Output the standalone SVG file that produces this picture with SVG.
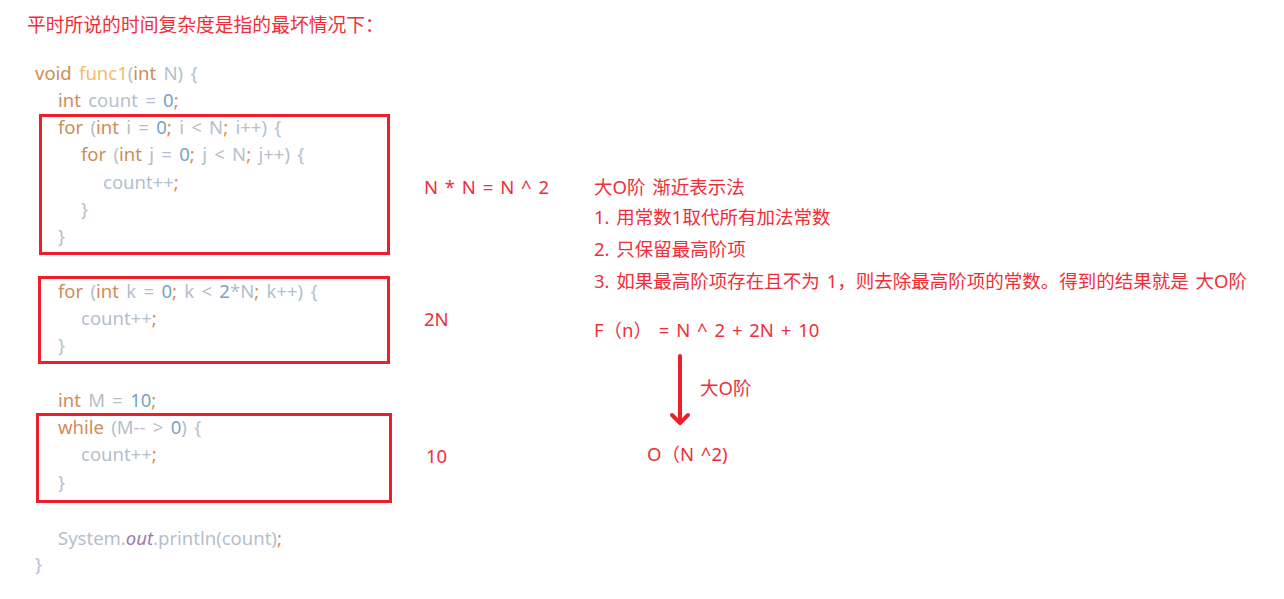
<svg xmlns="http://www.w3.org/2000/svg" width="1284" height="599" viewBox="0 0 1284 599">
<style>
text{font-family:"Noto Sans","Noto Sans CJK SC",sans-serif;}
.code{font-size:18.5px;fill:#b3bfcc;word-spacing:2.5px;}
.k{fill:#cf8c57;}
.f{fill:#f4bd6c;}
.n{fill:#77a2c8;}
.s{fill:#e08a48;}
.o{fill:#9b78b2;font-style:italic;}
.red{fill:#ee2f3a;font-size:18.5px;word-spacing:2px;}
.box{fill:none;stroke:#ee1f2b;stroke-width:3;}
.arr{fill:none;stroke:#ee1f2b;stroke-width:4;stroke-linecap:round;stroke-linejoin:round;}
</style>
<rect width="1284" height="599" fill="#ffffff"/>
<g id="title"><text class="red" x="27" y="32" style="font-size:18.8px">平时所说的时间复杂度是指的最坏情况下：</text></g>
<g id="code" class="code">
<text x="35" y="80"><tspan class="k">void </tspan><tspan class="f">func1</tspan>(<tspan class="k">int </tspan>N) {</text>
<text x="58" y="107"><tspan class="k">int </tspan>count = <tspan class="n">0</tspan><tspan class="s">;</tspan></text>
<text x="58" y="134"><tspan class="k">for </tspan>(<tspan class="k">int </tspan>i = <tspan class="n">0</tspan><tspan class="s">; </tspan>i &lt; N<tspan class="s">; </tspan>i++) {</text>
<text x="81" y="161"><tspan class="k">for </tspan>(<tspan class="k">int </tspan>j = <tspan class="n">0</tspan><tspan class="s">; </tspan>j &lt; N<tspan class="s">; </tspan>j++) {</text>
<text x="103" y="189">count++<tspan class="s">;</tspan></text>
<text x="81" y="216">}</text>
<text x="58" y="243">}</text>
<text x="58" y="298"><tspan class="k">for </tspan>(<tspan class="k">int </tspan>k = <tspan class="n">0</tspan><tspan class="s">; </tspan>k &lt; <tspan class="n">2</tspan>*N<tspan class="s">; </tspan>k++) {</text>
<text x="81" y="325">count++<tspan class="s">;</tspan></text>
<text x="58" y="352">}</text>
<text x="58" y="407"><tspan class="k">int </tspan>M = <tspan class="n">10</tspan><tspan class="s">;</tspan></text>
<text x="58" y="434"><tspan class="k">while </tspan>(M-- &gt; <tspan class="n">0</tspan>) {</text>
<text x="81" y="461">count++<tspan class="s">;</tspan></text>
<text x="58" y="489">}</text>
<text x="58" y="545">System.<tspan class="o">out</tspan>.println(count)<tspan class="s">;</tspan></text>
<text x="35" y="571">}</text>
</g>
<g id="box1"><rect class="box" x="40.5" y="115.5" width="348" height="138"/></g>
<g id="box2"><rect class="box" x="39.5" y="277.5" width="349" height="85"/></g>
<g id="box3"><rect class="box" x="37.5" y="414.5" width="353" height="87"/></g>
<g id="label1"><text class="red" x="424" y="194">N * N = N ^ 2</text></g>
<g id="label2"><text class="red" x="424" y="326">2N</text></g>
<g id="label3"><text class="red" x="426" y="463">10</text></g>
<g id="rules">
<text class="red" x="594" y="194">大O阶 渐近表示法</text>
<text class="red" x="594" y="224">1. 用常数1取代所有加法常数</text>
<text class="red" x="594" y="256">2. 只保留最高阶项</text>
<text class="red" x="594" y="288">3. 如果最高阶项存在且不为 1，则去除最高阶项的常数。得到的结果就是 大O阶</text>
</g>
<g id="formula"><text class="red" x="594" y="337">F（n） = N ^ 2 + 2N + 10</text></g>
<g id="result"><text class="red" x="647" y="461">O（N ^2)</text></g>
<g id="connectors">
<path class="arr" d="M680 356 V422"/>
<path class="arr" d="M672 415 L680 423 L688 415"/>
<text class="red" x="700" y="395">大O阶</text>
</g>
</svg>
